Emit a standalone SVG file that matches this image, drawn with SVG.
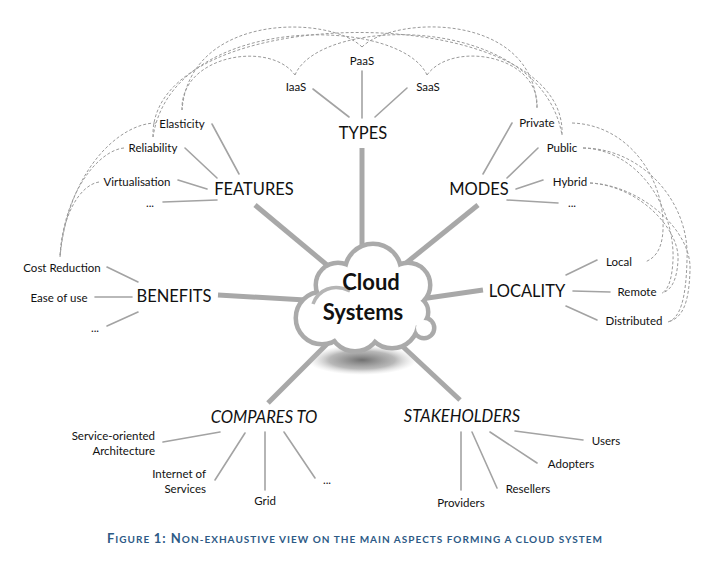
<svg xmlns="http://www.w3.org/2000/svg" width="722" height="566" viewBox="0 0 722 566">
<style>
.s{font-family:Lato,"Noto Sans",sans-serif;font-size:11.5px;fill:#111;text-anchor:middle}
.b{font-family:Lato,"Noto Sans",sans-serif;font-size:16.5px;fill:#111;text-anchor:middle}
.i{font-style:italic}
.thin{stroke:#a3a3a3;stroke-width:1.6;fill:none;stroke-linecap:round}
.spoke{stroke:#a8a8a8;stroke-width:5;fill:none}
.dash{stroke:#9a9a9a;stroke-width:1;fill:none;stroke-dasharray:3 2}
.cap{font-family:Lato,"Noto Sans",sans-serif;font-weight:bold;fill:#2d5a86;font-size:10px}
.cb{font-size:13px}
</style>
<defs>
<radialGradient id="sh" cx="0.5" cy="0.5" r="0.5">
<stop offset="0" stop-color="#707070"/>
<stop offset="0.6" stop-color="#9a9a9a" stop-opacity="0.7"/>
<stop offset="1" stop-color="#cfcfcf" stop-opacity="0"/>
</radialGradient>
</defs>
<rect width="722" height="566" fill="#fff"/>

<g id="connectors">
<!-- dashed relations -->
<path class="dash" d="M182,110 C180,55 270,40 295,75"/>
<path class="dash" d="M427,75 C452,40 540,55 537,108"/>
<path class="dash" d="M295,75 C320,15 540,12 562,135"/>
<path class="dash" d="M427,75 C400,15 172,12 153,137"/>
<path class="dash" d="M362,47 C330,15 190,12 182,110"/>
<path class="dash" d="M362,47 C394,15 534,12 537,108"/>
<path class="dash" d="M153,137 C148,-2 568,-2 562,135"/>
<path class="dash" d="M156,123 C120,123 68,170 60,257"/>
<path class="dash" d="M124,148 C100,150 64,190 60,257"/>
<path class="dash" d="M99,182 C80,185 62,215 60,257"/>
<path class="dash" d="M572,123 C630,125 665,180 663,230 C662,250 655,258 645,262"/>
<path class="dash" d="M583,148 C640,148 690,200 687,260 C686,300 680,318 668,322"/>
<path class="dash" d="M583,148 C640,150 675,210 673,260 C672,280 668,290 662,293"/>
<path class="dash" d="M590,183 C640,185 692,230 690,270 C689,305 682,318 668,322"/>
<path class="dash" d="M590,183 C640,186 680,230 678,260 C677,282 670,291 662,293"/>
<!-- spokes -->
<line class="spoke" x1="362" y1="148" x2="362" y2="270"/>
<line class="spoke" x1="255" y1="205" x2="345" y2="280"/>
<line class="spoke" x1="478" y1="205" x2="385" y2="280"/>
<line class="spoke" x1="218" y1="295" x2="340" y2="302"/>
<line class="spoke" x1="483" y1="290" x2="400" y2="302"/>
<line class="spoke" x1="268" y1="403" x2="345" y2="326"/>
<line class="spoke" x1="460" y1="400" x2="385" y2="330"/>
<!-- thin -->
<line class="thin" x1="313" y1="89" x2="349" y2="117"/>
<line class="thin" x1="362" y1="71" x2="362" y2="118"/>
<line class="thin" x1="407" y1="88" x2="375" y2="117"/>
<line class="thin" x1="212" y1="124" x2="239" y2="174"/>
<line class="thin" x1="185" y1="148" x2="217" y2="178"/>
<line class="thin" x1="178" y1="180" x2="207" y2="189"/>
<line class="thin" x1="163" y1="202" x2="217" y2="200"/>
<line class="thin" x1="107" y1="267" x2="138" y2="282"/>
<line class="thin" x1="95" y1="297" x2="132" y2="297"/>
<line class="thin" x1="107" y1="326" x2="138" y2="312"/>
<line class="thin" x1="512" y1="123" x2="483" y2="174"/>
<line class="thin" x1="538" y1="148" x2="507" y2="178"/>
<line class="thin" x1="543" y1="180" x2="516" y2="189"/>
<line class="thin" x1="507" y1="200" x2="558" y2="203"/>
<line class="thin" x1="597" y1="260" x2="566" y2="275"/>
<line class="thin" x1="573" y1="291" x2="610" y2="292"/>
<line class="thin" x1="566" y1="306" x2="597" y2="320"/>
<line class="thin" x1="163" y1="442" x2="220" y2="432"/>
<line class="thin" x1="215" y1="480" x2="245" y2="433"/>
<line class="thin" x1="265" y1="490" x2="265" y2="432"/>
<line class="thin" x1="315" y1="478" x2="284" y2="432"/>
<line class="thin" x1="515" y1="431" x2="583" y2="440"/>
<line class="thin" x1="490" y1="432" x2="537" y2="463"/>
<line class="thin" x1="472" y1="432" x2="497" y2="488"/>
<line class="thin" x1="461" y1="432" x2="461" y2="490"/>
</g>

<g id="cloud">
<ellipse cx="362" cy="360" rx="55" ry="15" fill="url(#sh)"/>
<g stroke="#aaaaaa" stroke-width="9" fill="#aaaaaa">
<circle cx="373" cy="272" r="26"/>
<circle cx="338" cy="285" r="20"/>
<circle cx="408" cy="285" r="20"/>
<circle cx="322" cy="318" r="24"/>
<circle cx="355" cy="325" r="24"/>
<circle cx="392" cy="322" r="24"/>
<circle cx="412" cy="312" r="14"/>
<circle cx="424" cy="328" r="8"/>
<circle cx="365" cy="300" r="30"/>
</g>
<g fill="#fff">
<circle cx="373" cy="272" r="26"/>
<circle cx="338" cy="285" r="20"/>
<circle cx="408" cy="285" r="20"/>
<circle cx="322" cy="318" r="24"/>
<circle cx="355" cy="325" r="24"/>
<circle cx="392" cy="322" r="24"/>
<circle cx="412" cy="312" r="14"/>
<circle cx="424" cy="328" r="8"/>
<circle cx="365" cy="300" r="30"/>
</g>
<path d="M313,304 C318,290 333,283 350,291" stroke="#b5b5b5" stroke-width="3.5" fill="none"/>
<text x="371" y="290" class="b" style="font-size:22px;font-weight:bold">Cloud</text>
<text x="363" y="320" class="b" style="font-size:22px;font-weight:bold">Systems</text>
</g>

<g id="types">
<text x="363" y="139" class="b">TYPES</text>
<text x="296" y="91" class="s">IaaS</text>
<text x="362" y="65" class="s">PaaS</text>
<text x="428" y="91" class="s">SaaS</text>
</g>
<g id="features">
<text x="254" y="195" class="b">FEATURES</text>
<text x="182" y="128" class="s">Elasticity</text>
<text x="153" y="152" class="s">Reliability</text>
<text x="137" y="186" class="s">Virtualisation</text>
<text x="150" y="207" class="s">...</text>
</g>
<g id="benefits">
<text x="174" y="302" class="b">BENEFITS</text>
<text x="62" y="272" class="s">Cost Reduction</text>
<text x="59" y="302" class="s">Ease of use</text>
<text x="95" y="332" class="s">...</text>
</g>
<g id="modes">
<text x="479" y="195" class="b">MODES</text>
<text x="537" y="127" class="s">Private</text>
<text x="562" y="152" class="s">Public</text>
<text x="570" y="186" class="s">Hybrid</text>
<text x="572" y="207" class="s">...</text>
</g>
<g id="locality">
<text x="527" y="297" class="b">LOCALITY</text>
<text x="619" y="266" class="s">Local</text>
<text x="637" y="296" class="s">Remote</text>
<text x="634" y="325" class="s">Distributed</text>
</g>
<g id="compares">
<text x="264" y="423" class="b i">COMPARES TO</text>
<text x="155" y="440" class="s" style="text-anchor:end">Service-oriented</text>
<text x="155" y="455" class="s" style="text-anchor:end">Architecture</text>
<text x="206" y="478" class="s" style="text-anchor:end">Internet of</text>
<text x="206" y="493" class="s" style="text-anchor:end">Services</text>
<text x="265" y="505" class="s">Grid</text>
<text x="327" y="484" class="s">...</text>
</g>
<g id="stakeholders">
<text x="462" y="422" class="b i">STAKEHOLDERS</text>
<text x="606" y="445" class="s">Users</text>
<text x="571" y="468" class="s">Adopters</text>
<text x="528" y="493" class="s">Resellers</text>
<text x="461" y="507" class="s">Providers</text>
</g>
<g id="caption">
<text x="107" y="543" class="cap" textLength="495" lengthAdjust="spacing"><tspan class="cb">F</tspan>IGURE <tspan class="cb">1: N</tspan>ON-EXHAUSTIVE VIEW ON THE MAIN ASPECTS FORMING A CLOUD SYSTEM</text>
</g>
</svg>
